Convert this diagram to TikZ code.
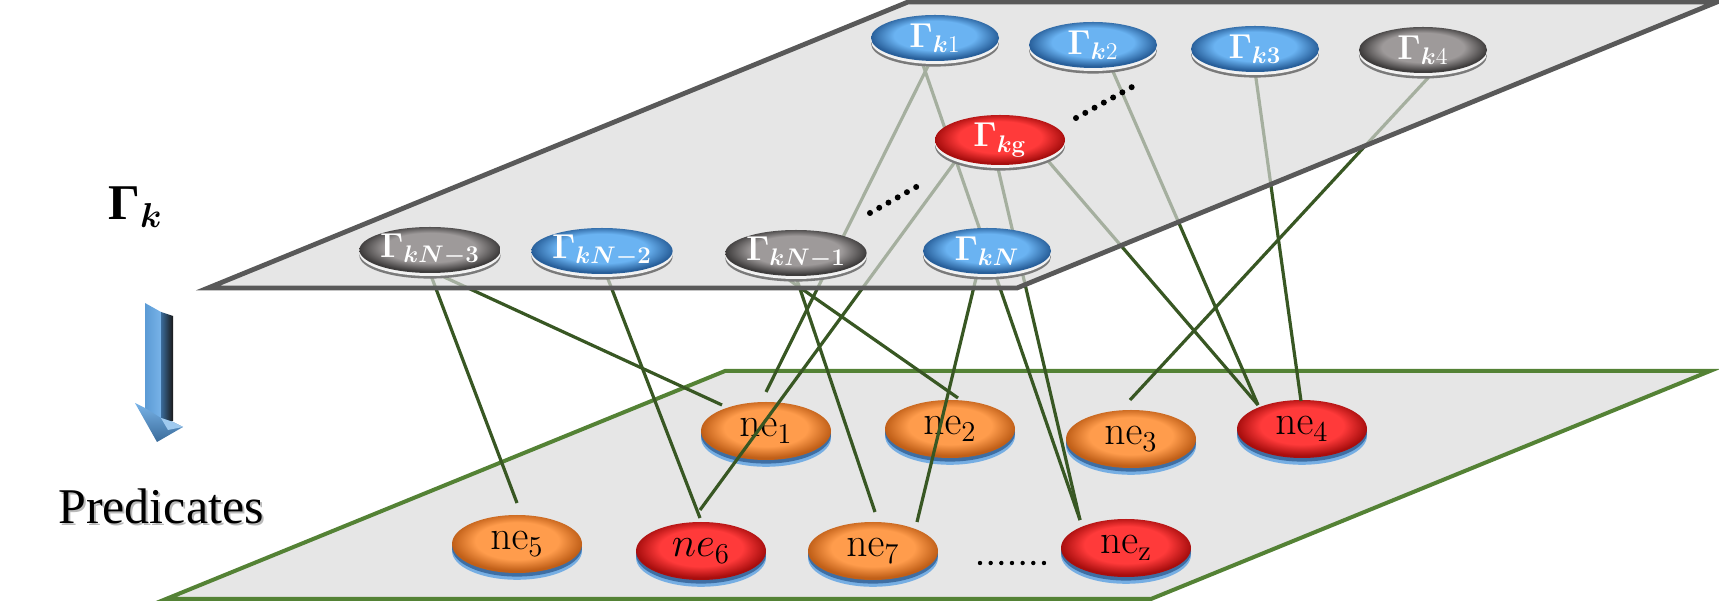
\documentclass[tikz,border=0pt]{standalone}
\usepackage[no-math]{fontspec}
\setmainfont{Liberation Serif}
\usepackage{amsmath}
\usetikzlibrary{shapes.geometric,shadows,calc}

\definecolor{blueIn}{HTML}{6AB3F2}
\definecolor{blueOut}{HTML}{285F9A}
\definecolor{grayIn}{HTML}{9E9A9A}
\definecolor{grayOut}{HTML}{3E3C3C}
\definecolor{redIn}{HTML}{FF3A3A}
\definecolor{redOut}{HTML}{A80E0E}
\definecolor{orangeIn}{HTML}{FF9C4C}
\definecolor{orangeOut}{HTML}{C05F18}
\definecolor{rimDark}{HTML}{7A7A7A}
\definecolor{rimLight}{HTML}{F2F2F2}
\definecolor{rimBlueOuter}{HTML}{76AEE3}
\definecolor{rimBlueInner}{HTML}{3E6EA3}
\definecolor{planeFill}{HTML}{DADADA}
\definecolor{lowerFill}{HTML}{E6E6E6}
\definecolor{upperEdge}{HTML}{595959}
\definecolor{lowerEdge}{HTML}{548235}
\definecolor{linkGreen}{HTML}{385723}
\definecolor{arrowFront}{HTML}{5B9BD5}
\definecolor{arrowLight}{HTML}{78B3E8}
\definecolor{arrowSide}{HTML}{3A6B9A}
\colorlet{discin}{blueIn}
\colorlet{discout}{blueOut}

% glossy disc: flat centre, darker rim (path edge sits at 25bp)
\pgfdeclareradialshading[discin,discout]{disc}{\pgfpoint{0bp}{4bp}}{%
  color(0bp)=(discin); color(16bp)=(discin); color(25bp)=(discout); color(50bp)=(discout)}

\pgfdeclarelayer{planes}
\pgfdeclarelayer{lownodes}
\pgfdeclarelayer{links}
\pgfdeclarelayer{upperplane}
\pgfsetlayers{planes,lownodes,links,upperplane,main}

\tikzset{
  gammanode/.style={ellipse, inner sep=0pt, minimum width=64pt, minimum height=23pt,
    text=white, font=\fontsize{17.5}{19}\selectfont,
    general shadow={shadow xshift=0pt, shadow yshift=-2.8pt, fill=rimDark},
    general shadow={shadow xshift=0pt, shadow yshift=-1.5pt, fill=rimLight},
    shade, shading=disc},
  bluegamma/.style={gammanode, /utils/exec={\colorlet{discin}{blueIn}\colorlet{discout}{blueOut}}},
  graygamma/.style={gammanode, /utils/exec={\colorlet{discin}{grayIn}\colorlet{discout}{grayOut}}},
  redgamma/.style={gammanode, minimum width=65pt, minimum height=25pt,
    /utils/exec={\colorlet{discin}{redIn}\colorlet{discout}{redOut}}},
  nenode/.style={ellipse, inner sep=0pt, minimum width=65pt, minimum height=29pt,
    text=black, font=\fontsize{19.5}{22}\selectfont,
    general shadow={shadow xshift=0pt, shadow yshift=-3.4pt, fill=rimBlueOuter},
    general shadow={shadow xshift=0pt, shadow yshift=-1.8pt, fill=rimBlueInner},
    shade, shading=disc},
  orangene/.style={nenode, /utils/exec={\colorlet{discin}{orangeIn}\colorlet{discout}{orangeOut}}},
  redne/.style={nenode, /utils/exec={\colorlet{discin}{redIn}\colorlet{discout}{redOut}}},
  link/.style={draw=linkGreen, line width=1.6pt},
  bigdots/.style={draw=black, line width=3pt, line cap=round, dash pattern=on 0pt off 5.3pt},
  smalldots/.style={draw=black, line width=2.2pt, line cap=round, dash pattern=on 0pt off 5.33pt},
}

\begin{document}
\begin{tikzpicture}[x=0.5pt, y=-0.5pt]
\useasboundingbox (0,0) rectangle (1719,603);

% ---- lower plane (predicates)
\begin{pgfonlayer}{planes}
  \filldraw[fill=lowerFill, draw=lowerEdge, line width=2pt, line join=miter]
    (725,371) -- (1710,371) -- (1151,599) -- (166,599) -- cycle;
\end{pgfonlayer}

% ---- upper plane (Gamma_k), translucent so the links show through
\begin{pgfonlayer}{upperplane}
  \fill[planeFill, fill opacity=0.68]
    (908,2) -- (1717,2) -- (1017,288) -- (208,288) -- cycle;
  \draw[upperEdge, line width=2.4pt, line join=miter]
    (908,2) -- (1717,2) -- (1017,288) -- (208,288) -- cycle;
\end{pgfonlayer}

% ---- Gamma nodes
\node[bluegamma] (g1) at (935,38) {$\mathbf{\Gamma}_{\boldsymbol{k}\mathrm{1}}$};
\node[bluegamma] (g2) at (1093,45) {$\mathbf{\Gamma}_{\boldsymbol{k}\mathrm{2}}$};
\node[bluegamma] (g3) at (1255,49) {$\mathbf{\Gamma}_{\boldsymbol{k}\mathbf{3}}$};
\node[graygamma] (g4) at (1423,50) {$\mathbf{\Gamma}_{\boldsymbol{k}\mathrm{4}}$};
\node[redgamma]  (gg) at (1000,140) {$\mathbf{\Gamma}_{\boldsymbol{k}\mathbf{g}}$};
\node[bluegamma] (gN) at (987,251) {$\mathbf{\Gamma}_{\boldsymbol{kN}}$};
\node[graygamma] (gN3) at (430,250) {$\mathbf{\Gamma}_{\boldsymbol{kN-}\mathbf{3}}$};
\node[bluegamma] (gN2) at (602,251) {$\mathbf{\Gamma}_{\boldsymbol{kN-}\mathbf{2}}$};
\node[graygamma] (gN1) at (796,253) {$\mathbf{\Gamma}_{\boldsymbol{kN-}\mathbf{1}}$};

% ---- predicate nodes (under the links)
\begin{pgfonlayer}{lownodes}
\node[orangene] (ne1) at (766,431) {$\mathrm{ne}_{1}$};
\node[orangene] (ne2) at (950,429) {$\mathrm{ne}_{2}$};
\node[orangene] (ne3) at (1131,439) {$\mathrm{ne}_{3}$};
\node[redne]    (ne4) at (1302,429) {$\mathrm{ne}_{4}$};
\node[orangene] (ne5) at (517,544) {$\mathrm{ne}_{5}$};
\node[redne]    (ne6) at (701,551) {$ne_{6}$};
\node[orangene] (ne7) at (873,551) {$\mathrm{ne}_{7}$};
\node[redne]    (nez) at (1126,548) {$\mathrm{ne}_{\mathrm{z}}$};
\end{pgfonlayer}

% ---- links between the two layers
\begin{pgfonlayer}{links}
  \draw[link] ($(g1)+(-5,24)$)   -- ($(ne1)+(0,-39)$);
  \draw[link] ($(g1)+(-13,24)$)  -- ($(nez)+(-46,-28)$);
  \draw[link] ($(gg)+(-3,24)$)   -- ($(nez)+(-46,-28)$);
  \draw[link] ($(gg)+(-40,15)$)  -- ($(ne6)+(-1,-41)$);
  \draw[link] ($(gg)+(43,15)$)   -- ($(ne4)+(-44,-24)$);
  \draw[link] ($(g2)+(15,15)$)   -- ($(ne4)+(-44,-24)$);
  \draw[link] ($(g3)+(-1,15)$)   -- ($(ne4)+(-1,-28)$);
  \draw[link] ($(g4)+(17,15)$)   -- ($(ne3)+(-1,-39)$);
  \draw[link] ($(gN)+(-8,15)$)   -- ($(ne7)+(44,-29)$);
  \draw[link] ($(gN1)+(-3,15)$)  -- ($(ne7)+(2,-39)$);
  \draw[link] ($(gN1)+(-24,15)$) -- ($(ne2)+(8,-31)$);
  \draw[link] ($(gN2)+(1,15)$)   -- ($(ne6)+(-1,-33)$);
  \draw[link] ($(gN3)+(-3,15)$)  -- ($(ne5)+(0,-41)$);
  \draw[link] ($(gN3)+(-12,15)$) -- ($(ne1)+(-44,-26)$);
\end{pgfonlayer}

% ---- ellipses (omitted nodes)
\draw[bigdots] (870,213) -- (925,182);
\draw[bigdots] (1076,118) -- (1132,87);
\draw[smalldots] (980,563) -- (1044,563);

% ---- side labels
\node[anchor=base west, inner sep=0pt, font=\fontsize{25}{28}\selectfont] (lblG)
  at (108,220) {{\bfseries Γ}$_{\boldsymbol{k}}$};
\node[anchor=base, inner sep=0pt, font=\fontsize{25}{30}\selectfont, text=black!45, opacity=0.6] (lblPs)
  at (163,526) {Predicates};
\node[anchor=base, inner sep=0pt, font=\fontsize{25}{30}\selectfont] (lblP)
  at (161,524) {Predicates};

% ---- 3D downward arrow
\shade[left color=arrowFront, right color=arrowLight]
  (145,303) -- (161,312) -- (161,424) -- (145,414) -- cycle;
\shade[left color=arrowSide, right color=black!90]
  (161,312) -- (173,316) -- (173,421) -- (161,424) -- cycle;
\shade[top color=arrowLight, bottom color=arrowSide]
  (135,403) -- (145,408) -- (161,418) -- (173,422) -- (183,427) -- (157,442) -- cycle;
\fill[arrowLight!70!white] (161,418) -- (173,422) -- (183,427) -- (168,430) -- cycle;
\end{tikzpicture}
\end{document}
